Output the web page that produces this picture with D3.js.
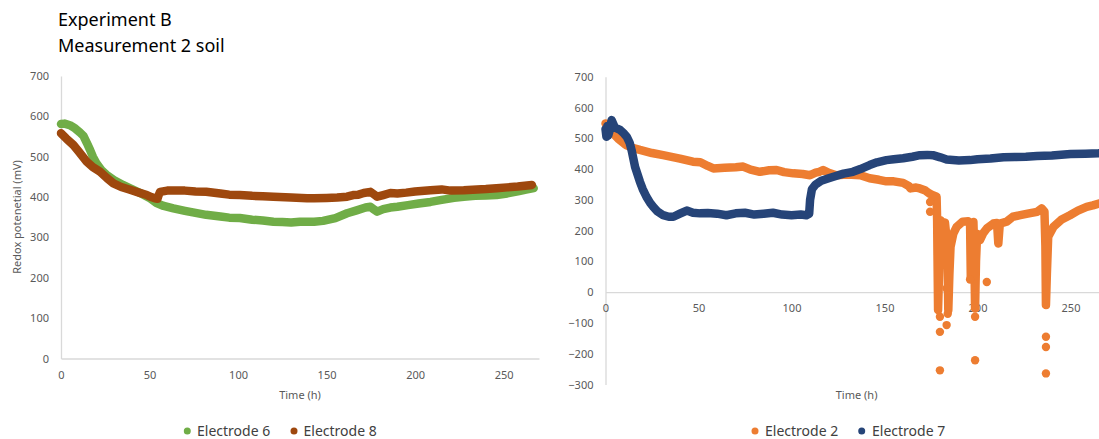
<!DOCTYPE html>
<html>
<head>
<meta charset="utf-8">
<script src="https://cdn.jsdelivr.net/npm/d3@7"></script>
<style>
  html, body { margin: 0; padding: 0; background: #fff; }
  svg { display: block; font-family: "Noto Sans", "Open Sans", sans-serif; }
</style>
</head>
<body>
<svg id="chart" width="1099" height="439"></svg>
<script>
// ---- Data: [time (h), redox potential (mV)] ----
const electrode6 = [[0,581],[2,582],[5,578],[8,570],[10.7,560],[12.6,552],[14.5,535],[16.4,517],[18,500],[20,484],[23,466],[25.8,455],[30,442],[35,430],[40,420],[44.7,410],[50,398],[54,385],[58,378],[63.5,372],[70,366],[76,361],[82,356],[90,352],[95,349],[101,348],[108,344],[114,342],[120,339],[125,338],[130,337],[135,339],[139,339],[143,339],[148,341],[155,348],[161.6,360],[167,367],[172,374],[174.8,376],[176.5,370],[178.6,364],[182,370],[186,374],[190,376],[196,380],[202,384],[208.7,388],[215,393],[222,398],[227.5,401],[234,403],[240,404],[246,405],[252,409],[258,414],[262,418],[267,422]];

const electrode8 = [[0,558],[3,545],[7,529],[10,513],[14.5,488],[18,474],[22,463],[26,447],[29.6,434],[34,425],[39,418],[44,411],[48.5,405],[51,400],[53,397],[54.5,396],[55,403],[56,413],[60,416],[63.5,416],[70,416],[76,414],[82,413],[90,409],[95,406],[101,405],[108,403],[114,402],[120,401],[130,399],[139,397],[143,397],[150,398],[156,399],[161.6,401],[165,405],[168,406],[171,410],[174.8,413],[177,406],[178.6,401],[182,405],[186,410],[190,409],[195,411],[200,414],[208.7,417],[215,419],[220,416],[227.5,417],[235,419],[240,420],[246,422],[252,424],[258,426],[262,428],[266,430]];

const electrode2 = [[0,548],[1,540],[2,530],[4,516],[7,498],[11,478],[15,468],[18.5,462],[25,452],[31,445],[40,434],[47,424],[51,422],[55,410],[58,402],[64,404],[70,406],[74,408],[78,398],[83,391],[88,396],[92,397],[96,390],[101,386],[106,384],[110,380],[113,388],[115,391],[117,397],[120,388],[124,380],[130,382],[137,380],[142,370],[147,365],[151,360],[155,360],[160,355],[163,345],[164,337],[167,340],[169,337],[172,330],[174,321],[176,315],[178,310],[178.3,234],[178.8,-58],[179.5,100],[180,234],[181,228],[182.5,226],[183.8,150],[184.3,-58],[184.9,60],[185.5,147],[187,190],[188.8,212],[192,229],[195,230],[196,225],[196.4,50],[196.9,200],[197.8,228],[198.3,120],[198.7,-53],[199.2,100],[199.8,190],[201.3,169],[203,191],[205,207],[208.5,223],[210.5,225],[211.2,158],[212,223],[215.7,229],[219,245],[223,250],[227,255],[232,261],[234.5,272],[236,262],[236.5,150],[236.8,-42],[237.3,60],[238,180],[240.8,212],[245,235],[249.7,250],[254,265],[258.7,277],[262,282],[265.3,288],[268,290]];

// isolated readings of electrode 2 away from the main trace
const electrode2Outliers = [[174.5,293],[174.5,261],[179.8,-80],[179.8,-129],[179.8,-254],[183.4,-107],[183.4,12],[184,-70],[196,41],[198.7,-80],[198.7,-221],[205,33],[236.8,-145],[236.8,-178],[236.8,-264]];

const electrode7 = [[0,530],[0.5,505],[1,540],[1.5,510],[2,520],[3.3,559],[5,535],[7.8,527],[10,515],[11.4,505],[13,485],[14,462],[15.9,407],[18.5,359],[20,335],[22,310],[24,290],[25.7,277],[28,262],[31,250],[34,245],[36.5,245],[40,255],[43.7,265],[47,258],[50.8,256],[55,257],[60,255],[65,250],[70,256],[75,258],[80,252],[85,255],[90,258],[95,252],[100,250],[105,252],[108,250],[109.5,255],[110,300],[111,335],[113,350],[116,362],[120,370],[124.3,378],[128,385],[133,391],[137,400],[142,413],[146,422],[151,429],[155,432],[160,435],[165,440],[169,445],[173,446],[176,445],[180,438],[183.4,431],[190,428],[196,429],[200,432],[207,434],[214,438],[220,439],[226,440],[232,442],[240,444],[250,449],[258,450],[265,451],[268,452]];

// ---- Axis ticks ----
const xTicks = [0, 50, 100, 150, 200, 250];
const yTicksLeft = [0, 100, 200, 300, 400, 500, 600, 700];
const yTicksRight = [-300, -200, -100, 0, 100, 200, 300, 400, 500, 600, 700];

const colors = { e6: "#70AD47", e8: "#9E480E", e2: "#ED7D31", e7: "#264478" };

const svg = d3.select("#chart");
const axisColor = "#D9D9D9";
const labelColor = "#595959";

// Titles
svg.append("text").attr("x", 58).attr("y", 26).attr("font-size", 18).attr("fill", "#000").text("Experiment B");
svg.append("text").attr("x", 58).attr("y", 52).attr("font-size", 18).attr("fill", "#000").text("Measurement 2 soil");

function styleAxis(sel) {
  sel.select(".domain").attr("stroke", axisColor).attr("stroke-width", 1.3);
  sel.selectAll(".tick line").remove();
  sel.selectAll(".tick text").attr("fill", labelColor).attr("font-size", 11)
     .attr("font-family", "'Noto Sans', sans-serif");
}

const lineThick = 8.5;

function drawTrace(g, data, x, y, color) {
  const line = d3.line().x(d => x(d[0])).y(d => y(d[1])).curve(d3.curveLinear);
  g.append("path").datum(data).attr("d", line)
    .attr("fill", "none").attr("stroke", color).attr("stroke-width", lineThick)
    .attr("stroke-linejoin", "round").attr("stroke-linecap", "round");
}

// ---------- Left panel: electrodes 6 and 8 ----------
const xL = d3.scaleLinear().domain([0, 270]).range([61, 539]);
const yL = d3.scaleLinear().domain([0, 700]).range([358.5, 76]);

const left = svg.append("g");
left.append("g").attr("transform", `translate(${xL(0)},0)`)
  .call(d3.axisLeft(yL).tickValues(yTicksLeft).tickSize(0).tickPadding(12).tickSizeOuter(0))
  .call(styleAxis);
left.append("g").attr("transform", `translate(0,${yL(0)})`)
  .call(d3.axisBottom(xL).tickValues(xTicks).tickSize(0).tickPadding(13).tickSizeOuter(0))
  .call(styleAxis);

drawTrace(left, electrode6, xL, yL, colors.e6);
drawTrace(left, electrode8, xL, yL, colors.e8);

left.append("text").attr("x", (xL(0) + xL(270)) / 2).attr("y", 399)
  .attr("text-anchor", "middle").attr("font-size", 11).attr("fill", labelColor).text("Time (h)");
left.append("text").attr("transform", "translate(21,217) rotate(-90)")
  .attr("text-anchor", "middle").attr("font-size", 11).attr("fill", labelColor).text("Redox potenetial (mV)");

// ---------- Right panel: electrodes 2 and 7 ----------
const xR = d3.scaleLinear().domain([0, 270]).range([605.5, 1107.7]);
const yR = d3.scaleLinear().domain([-300, 700]).range([384.5, 76.7]);

const right = svg.append("g");
right.append("g").attr("transform", `translate(${xR(0)},0)`)
  .call(d3.axisLeft(yR).tickValues(yTicksRight).tickSize(0).tickPadding(12).tickSizeOuter(0)
        .tickFormat(d3.format("d")))
  .call(styleAxis);
right.append("g").attr("transform", `translate(0,${yR(0)})`)
  .call(d3.axisBottom(xR).tickValues(xTicks).tickSize(0).tickPadding(12).tickSizeOuter(0))
  .call(styleAxis);

drawTrace(right, electrode2, xR, yR, colors.e2);
right.selectAll("circle.outlier").data(electrode2Outliers).enter().append("circle")
  .attr("class", "outlier").attr("cx", d => xR(d[0])).attr("cy", d => yR(d[1]))
  .attr("r", 4.2).attr("fill", colors.e2);
drawTrace(right, electrode7, xR, yR, colors.e7);

right.append("text").attr("x", (xR(0) + xR(270)) / 2).attr("y", 399)
  .attr("text-anchor", "middle").attr("font-size", 11).attr("fill", labelColor).text("Time (h)");

// ---------- Legends ----------
const legends = [
  { cx: 187.3, tx: 197, label: "Electrode 6", color: colors.e6 },
  { cx: 294, tx: 303.5, label: "Electrode 8", color: colors.e8 },
  { cx: 755, tx: 765, label: "Electrode 2", color: colors.e2 },
  { cx: 861.7, tx: 872, label: "Electrode 7", color: colors.e7 }
];
const lg = svg.append("g");
legends.forEach(l => {
  lg.append("circle").attr("cx", l.cx).attr("cy", 431).attr("r", 3.5).attr("fill", l.color);
  lg.append("text").attr("x", l.tx).attr("y", 436).attr("font-size", 14).attr("fill", "#404040").text(l.label);
});
</script>
</body>
</html>
